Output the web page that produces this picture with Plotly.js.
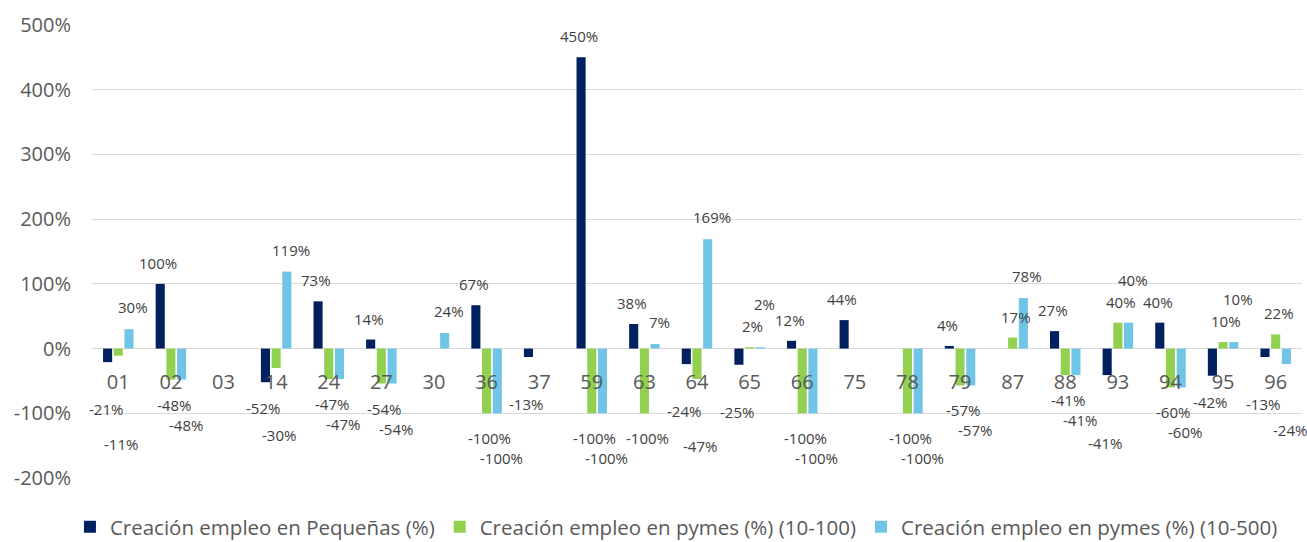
<!DOCTYPE html>
<html>
<head>
<meta charset="utf-8">
<script src="https://cdn.plot.ly/plotly-3.0.1.min.js"></script>
<style>html,body{margin:0;padding:0;background:#fff;}#chart{width:1307px;height:542px;}</style>
</head>
<body>
<div id="chart"></div>
<script>
const categories = ["01","02","03","14","24","27","30","36","37","59","63","64","65","66","75","78","79","87","88","93","94","95","96"];
const pequenas   = [-21, 100, null, -52, 73, 14, null, 67, -13, 450, 38, -24, -25, 12, 44, null, 4, null, 27, -41, 40, -42, -13];
const pymes100   = [-11, -48, null, -30, -47, -54, null, -100, null, -100, -100, -47, 2, -100, null, -100, -57, 17, -41, 40, -60, 10, 22];
const pymes500   = [30, -48, null, 119, -47, -54, 24, -100, null, -100, 7, 169, 2, -100, null, -100, -57, 78, -41, 40, -60, 10, -24];
const seriesNames = ["Creación empleo en Pequeñas (%)", "Creación empleo en pymes (%) (10-100)", "Creación empleo en pymes (%) (10-500)"];
const colors = ["#002060", "#92D050", "#70C5E7"];
const yTicks = [-200, -100, 0, 100, 200, 300, 400, 500];

const FONT = "Open Sans, sans-serif";
const series = [pequenas, pymes100, pymes500];
const Y0 = -200, Y1 = 500;

const traces = series.map((vals, i) => ({
  type: "bar",
  name: seriesNames[i],
  x: categories,
  y: vals,
  marker: {color: colors[i]},
  hoverinfo: "x+y"
}));

// Data labels: offset from each bar's end; greedy nudging so labels do not collide
const W = 1307, H = 542, M = {l: 92, r: 5, t: 25, b: 64};
const BARGAP = 0.39, GROUPGAP = 0.15;
const plotW = W - M.l - M.r, plotH = H - M.t - M.b;
const catW = plotW / categories.length;
const slot = catW * (1 - BARGAP) / 3;
const posShift = [21, 21, 22];
const negShift = [-26, -25, -24];
const xOff = [-2, 3, 4];
const STEP = 21, LH = 20;
const TICK_STANDOFF = 19;
const yPix = v => (Y1 - v) / (Y1 - Y0) * plotH;
// category tick labels act as obstacles
const placed = categories.map((c, k) => ({x: (k + 0.5) * catW, y: yPix(0) + TICK_STANDOFF + 14, w: 26, h: 18}));
const annotations = [];
categories.forEach((c, k) => {
  series.forEach((vals, s) => {
    const v = vals[k];
    if (v === null) return;
    const txt = v + "%";
    const w = txt.length * 8.6;
    const cx = (k + 0.5) * catW + (s - 1) * slot + xOff[s];
    let ys = v >= 0 ? posShift[s] : negShift[s];
    const dir = v >= 0 ? 1 : -1;
    let guard = 0;
    while (guard++ < 6) {
      const cy = yPix(v) - ys;
      const hit = placed.some(b => Math.abs(b.x - cx) < (b.w + w) / 2 + 2 && Math.abs(b.y - cy) < (b.h || LH));
      if (!hit) { placed.push({x: cx, y: cy, w: w}); break; }
      ys += dir * STEP;
    }
    annotations.push({
      xref: "x", yref: "y", x: k, y: v,
      text: txt, showarrow: false,
      xshift: (s - 1) * slot + xOff[s], yshift: ys,
      font: {family: FONT, size: 15, color: "#404040"}
    });
  });
});

const layout = {
  width: W, height: H,
  margin: Object.assign({autoexpand: false}, M),
  paper_bgcolor: "#ffffff",
  plot_bgcolor: "#ffffff",
  barmode: "group",
  bargap: BARGAP,
  bargroupgap: GROUPGAP,
  font: {family: FONT, color: "#595959"},
  annotations: annotations,
  xaxis: {
    type: "category",
    categoryorder: "array",
    categoryarray: categories,
    range: [-0.5, categories.length - 0.5],
    anchor: "free",
    position: (0 - Y0) / (Y1 - Y0),
    showgrid: false,
    showline: false,
    zeroline: false,
    ticks: "",
    ticklabelstandoff: TICK_STANDOFF,
    tickfont: {family: FONT, size: 20, color: "#595959"}
  },
  yaxis: {
    range: [Y0, Y1],
    tickvals: yTicks,
    ticktext: yTicks.map(v => v + "%"),
    showgrid: true,
    gridcolor: "#D9D9D9",
    gridwidth: 1,
    zeroline: true,
    zerolinecolor: "#D9D9D9",
    zerolinewidth: 1,
    showline: false,
    ticks: "",
    ticklabelstandoff: 20,
    tickfont: {family: FONT, size: 20, color: "#595959"}
  },
  showlegend: true,
  legend: {
    orientation: "h",
    x: 0.483, xanchor: "center",
    y: -0.108, yanchor: "middle",
    font: {family: FONT, size: 20.5, color: "#595959"},
    itemclick: false
  }
};

Plotly.newPlot("chart", traces, layout, {displayModeBar: false, staticPlot: true});
</script>
</body>
</html>
